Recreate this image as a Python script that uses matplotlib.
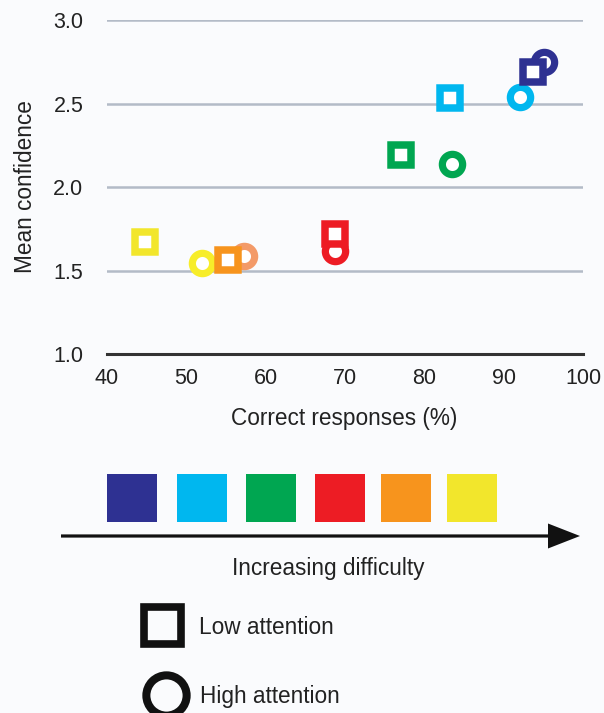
import numpy as np
import matplotlib.pyplot as plt
from matplotlib.patches import Rectangle, FancyArrow

plt.rcParams['font.family'] = ['Liberation Sans', 'DejaVu Sans']

# difficulty levels, easiest first
colors = ['#2e3192', '#00b7ef', '#00a651', '#ed1c24', '#f7941d', '#f2e62c']
circle_colors = ['#2e3192', '#00b7ef', '#00a651', '#ed1c24', '#f39a68', '#f7ed2a']

# low attention (squares)
low_x = [93.7, 83.2, 77.0, 68.7, 55.2, 44.8]
low_y = [2.69, 2.53, 2.19, 1.72, 1.56, 1.67]

# high attention (circles)
high_x = [95.1, 92.0, 83.5, 68.7, 57.3, 52.0]
high_y = [2.75, 2.54, 2.14, 1.615, 1.585, 1.545]

x_ticks = [40, 50, 60, 70, 80, 90, 100]
y_ticks = [1.0, 1.5, 2.0, 2.5, 3.0]

W, H = 604, 713
bg = '#fafbfd'
txt = '#222222'

fig = plt.figure(figsize=(W / 100, H / 100), dpi=100)
fig.patch.set_facecolor(bg)

# main scatter axes
ax = fig.add_axes([107 / W, 1 - 354 / H, 476 / W, 334 / H])
ax.set_facecolor(bg)
ax.set_xlim(40, 100)
ax.set_ylim(1.0, 3.0)
for s in ax.spines.values():
    s.set_visible(False)

# gridlines
for yv in y_ticks[1:]:
    ax.axhline(yv, color='#b3bbc7', lw=1.8, zorder=1)
ax.axhline(1.0, color='#333333', lw=2.2, zorder=1, clip_on=False)

ax.set_xticks(x_ticks)
ax.set_yticks(y_ticks)
ax.set_yticklabels(['{:.1f}'.format(v) for v in y_ticks])
ax.tick_params(length=0, labelsize=15.5, colors=txt)
ax.tick_params(axis='y', pad=17)
ax.tick_params(axis='x', pad=10)

# circles first, squares drawn on top
for i in range(len(colors)):
    ax.plot(high_x[i], high_y[i], ls='None', marker='o', ms=14.6, mew=5.2,
            mec=circle_colors[i], mfc='white', zorder=3, clip_on=False)
for i in range(len(colors)):
    ax.plot(low_x[i], low_y[i], ls='None', marker='s', ms=14.2, mew=5.4,
            mec=colors[i], mfc='white', zorder=4, clip_on=False)

fig.text(344 / W, 1 - 418 / H, 'Correct responses (%)', fontsize=16.3,
         ha='center', va='center', color=txt)
fig.text(25 / W, 1 - 187 / H, 'Mean confidence', fontsize=16.3, rotation=90,
         ha='center', va='center', color=txt)

# lower panel: difficulty key and attention legend
ov = fig.add_axes([0, 0, 1, 1])
ov.set_xlim(0, W)
ov.set_ylim(H, 0)
ov.axis('off')
ov.patch.set_alpha(0)

swatch_left = [107, 177, 246, 315, 381, 447]
for x0, c in zip(swatch_left, colors):
    ov.add_patch(Rectangle((x0, 474), 50, 48, color=c, lw=0))

ov.add_patch(FancyArrow(61, 536, 519, 0, width=3.2, head_width=25,
                        head_length=32, length_includes_head=True,
                        color='#111111', lw=0))
ov.text(328, 568, 'Increasing difficulty', fontsize=16.3, ha='center',
        va='center', color=txt)

ov.add_patch(Rectangle((143.5, 606.5), 37, 37, fill=False, ec='#111111', lw=5.5))
ov.text(199, 628, 'Low attention', fontsize=16.3, ha='left', va='center',
        color=txt)
ov.plot(166, 695, ls='None', marker='o', ms=29, mew=5.8, mec='#111111',
        mfc='none', clip_on=False)
ov.text(200, 697, 'High attention', fontsize=16.3, ha='left', va='center',
        color=txt)

fig.savefig('out.png', dpi=100, facecolor=bg)
